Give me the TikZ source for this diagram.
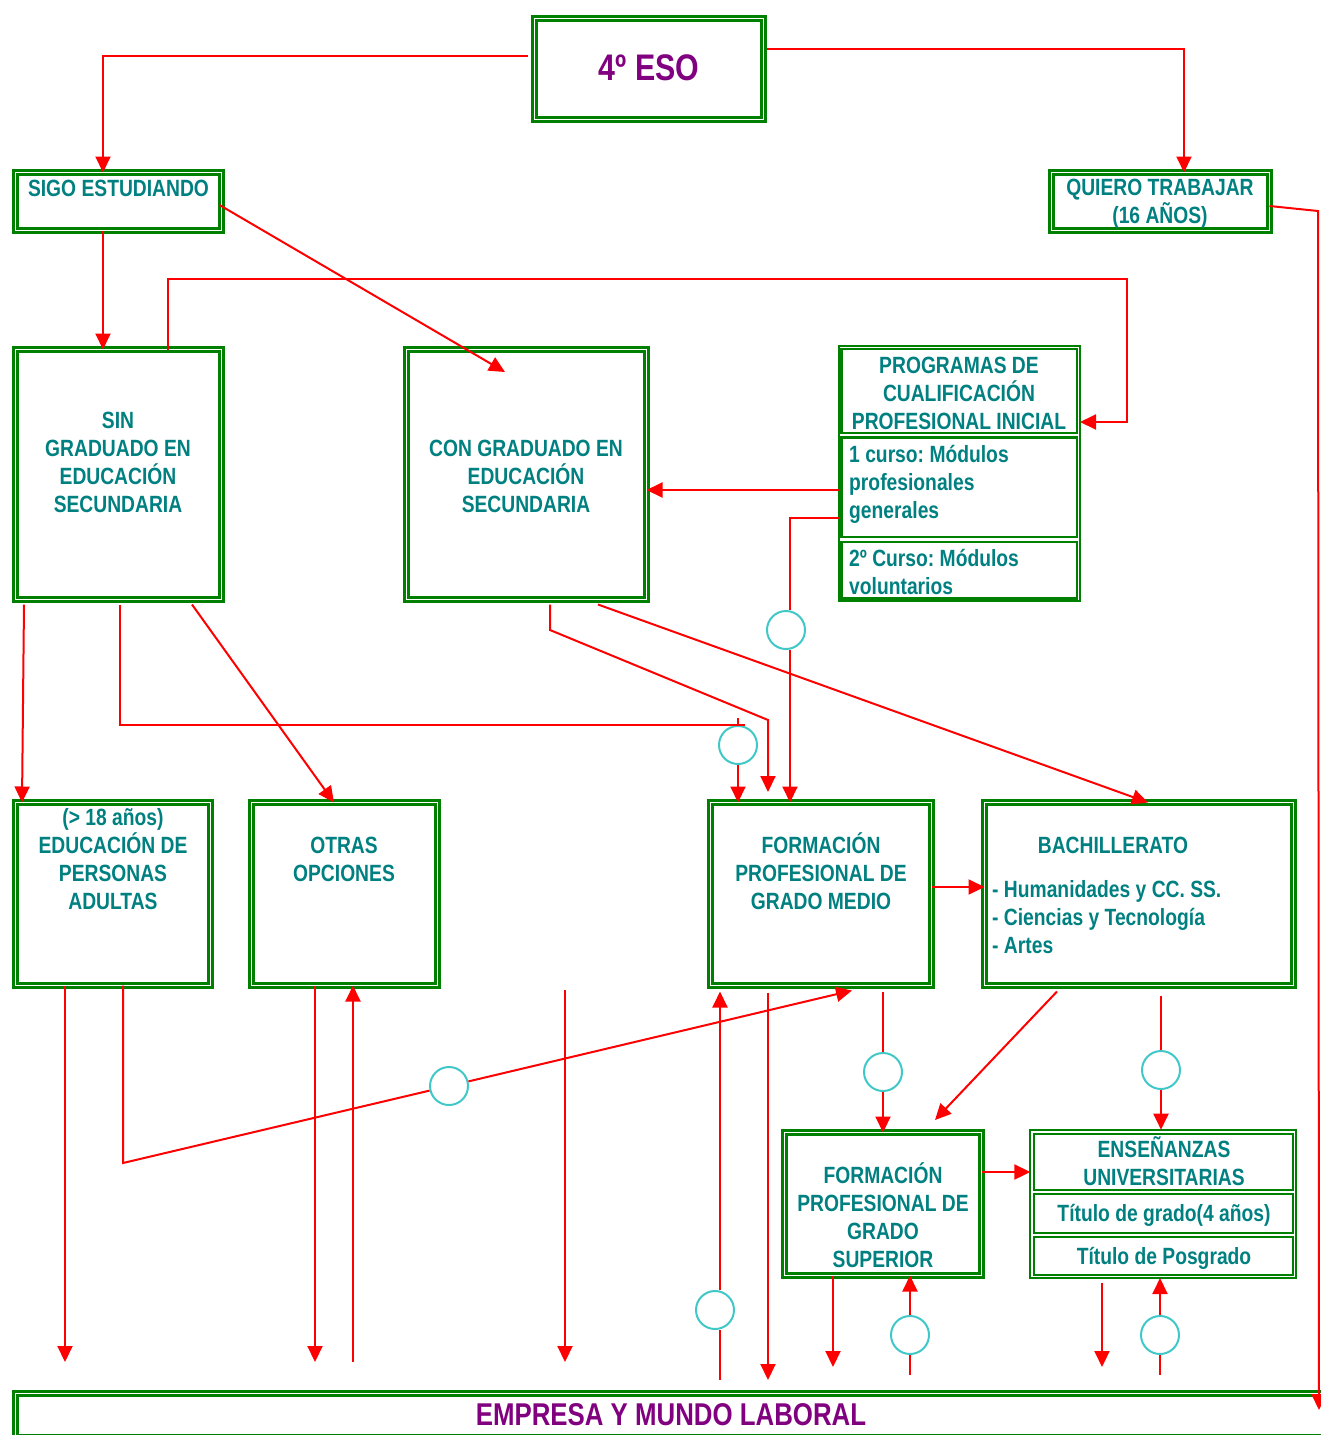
\documentclass[tikz,border=0pt]{standalone}
\usepackage{fontspec}
\usetikzlibrary{arrows.meta,calc}
\newfontfamily\nar{Liberation Sans}[FakeStretch=0.82]
\definecolor{grn}{RGB}{0,128,0}
\definecolor{tealc}{RGB}{0,128,128}
\definecolor{purp}{RGB}{128,0,128}
\definecolor{redc}{RGB}{255,0,0}
\definecolor{cyanc}{RGB}{64,200,200}
\newcommand\dbox[5]{\node[dbl, minimum width={#4-#2-7}, minimum height={#5-#3-7}] (#1) at ({(#2+#4)/2},{(#3+#5)/2}) {};}
\newcommand\rbox[6]{\node[sgl, line width=#6, minimum width={#4-#2}, minimum height={#5-#3}] (#1) at ({(#2+#4)/2},{(#3+#5)/2}) {};}
\frenchspacing
\begin{document}
\begin{tikzpicture}[x=1pt,y=-1pt,
  dbl/.style={draw=grn, line width=2.5pt, double=white, double distance=1.5pt, rectangle, inner sep=0pt, outer sep=0pt},
  sgl/.style={draw=grn, rectangle, inner sep=0pt, outer sep=0pt},
  txt/.style={font=\nar\bfseries\fontsize{23.5}{28}\selectfont\frenchspacing, text=tealc, align=center, inner sep=0pt},
  txtl/.style={txt, align=left, anchor=west},
  big/.style={font=\nar\bfseries\fontsize{37}{40}\selectfont, text=purp, inner sep=0pt},
  conn/.style={draw=redc, line width=2pt},
  arr/.style={conn, -{Triangle[length=16pt,width=15pt]}},
  circ/.style={circle, draw=cyanc, line width=2pt, minimum size=38pt, inner sep=0pt}]
\useasboundingbox (0,0) rectangle (1321,1435);

% boxes
\dbox{eso}{531}{15}{767}{123}
\dbox{sigo}{12}{169}{225}{234}
\dbox{quiero}{1048}{169}{1273}{234}
\dbox{sin}{12}{346}{225}{603}
\dbox{con}{403}{346}{650}{603}
\dbox{epa}{12}{799}{214}{989}
\dbox{otras}{248}{799}{441}{989}
\dbox{fpm}{707}{799}{935}{989}
\dbox{bach}{981}{799}{1297}{989}
\dbox{fpgs}{781}{1129}{985}{1279}
\dbox{emp}{12}{1390}{1345}{1441}

\rbox{prog}{838.5}{346.3}{1080}{601}{2pt}
\rbox{prog1}{841.5}{349}{1077}{433}{2.5pt}
\rbox{prog2}{841.5}{437.5}{1077}{537}{2.5pt}
\rbox{prog3}{841.5}{542}{1077}{598.5}{2.5pt}

\rbox{ens}{1030.3}{1129.7}{1296.3}{1278}{2pt}
\rbox{ens1}{1034}{1134}{1293}{1190}{2.5pt}
\rbox{ens2}{1034}{1194}{1293}{1233}{2.5pt}
\rbox{ens3}{1034}{1237}{1293}{1275}{2.5pt}

% texts
\node[big] (eso-t) at (649,68) {4º ESO};
\node[txt] (sigo-t) at (118.5,188) {SIGO ESTUDIANDO};
\node[txt] (quiero-t) at (1160,204) {QUIERO TRABAJAR\\(16 AÑOS)};
\node[txt] (sin-t) at (118,462) {SIN\\GRADUADO EN\\EDUCACIÓN\\SECUNDARIA};
\node[txt] (con-t) at (526,476) {CON GRADUADO EN\\EDUCACIÓN\\SECUNDARIA};
\node[txt] (prog-t) at (959,393) {PROGRAMAS DE\\CUALIFICACIÓN\\PROFESIONAL INICIAL};
\node[txtl] (prog1-t) at (849,484) {1 curso: Módulos\\profesionales\\generales};
\node[txtl] (prog3-t) at (849,572) {2º Curso: Módulos\\voluntarios};
\node[txt] (epa-t) at (113,859.5) {(> 18 años)\\EDUCACIÓN DE\\PERSONAS\\ADULTAS};
\node[txt] (otras-t) at (344,859) {OTRAS\\OPCIONES};
\node[txt] (fpm-t) at (821,871) {FORMACIÓN\\PROFESIONAL DE\\GRADO MEDIO};
\node[txt] (bach-t) at (1113,845) {BACHILLERATO};
\node[txtl] (bach-l) at (992,917) {- Humanidades y CC. SS.\\- Ciencias y Tecnología\\- Artes};
\node[txt] (fpgs-t) at (883,1215.5) {FORMACIÓN\\PROFESIONAL DE\\GRADO\\SUPERIOR};
\node[txt] (ens-t) at (1164,1161) {ENSEÑANZAS\\UNIVERSITARIAS};
\node[txt] (ens2-t) at (1164,1215) {Título de grado(4 años)};
\node[txt] (ens3-t) at (1164,1258) {Título de Posgrado};
\node[font=\nar\bfseries\fontsize{31.5}{34}\selectfont, text=purp, inner sep=0pt] (emp-t) at (671,1415) {EMPRESA Y MUNDO LABORAL};

% circles
\node[circ] (c1) at (786,630) {};
\node[circ] (c2) at (738,745) {};
\node[circ] (c3) at (449,1086) {};
\node[circ] (c4) at (883,1072) {};
\node[circ] (c5) at (715,1310) {};
\node[circ] (c6) at (1161,1070) {};
\node[circ] (c7) at (910,1335) {};
\node[circ] (c8) at (1160,1335) {};

% free ends
\coordinate (f1) at (65,1362);
\coordinate (f2) at (315,1362);
\coordinate (f3) at (353,1362);
\coordinate (f4a) at (565,990);
\coordinate (f4b) at (565,1362);
\coordinate (f5) at (720,1380);
\coordinate (f6) at (768,1380);
\coordinate (f7) at (833,1367);
\coordinate (f8) at (910,1375);
\coordinate (f9) at (1102,1367);
\coordinate (f10) at (1160,1375);
\coordinate (f11) at (1319,1410);
\coordinate (f12) at (935,1120);
\coordinate (f13) at (505,372);
\coordinate (f14) at (768,792);
\coordinate (f15) at (738,718);

% connectors
\draw[arr] ($(eso.west)+(-7,-13)$) -| (103,0 |- sigo.north);
\draw[arr] ($(eso.east)+(3,-20)$) -| (1184,0 |- quiero.north);
\draw[arr] (103,0 |- sigo.south) -- (103,0 |- sin.north);
\draw[arr] ($(sigo.east)+(-2,3.5)$) -- (f13);
\draw[arr] (168,0 |- sin.north) |- (1127,278.5) |- (prog.east |- 0,422);
\draw[arr] (prog.west |- 0,490) -- (con.east |- 0,490);
\draw[conn] (prog.west |- 0,518) -| (790,0 |- c1.north);
\draw[arr] (790,0 |- c1.south) -- (790,0 |- fpm.north);
\draw[arr] ($(24,0 |- sin.south)+(0,5)$) -- (22,0 |- epa.north);
\draw[conn] ($(120,0 |- sin.south)+(0,5)$) |- (745,725);
\draw[conn] (f15) -- (c2);
\draw[arr] (c2) -- (738,0 |- fpm.north);
\draw[arr] ($(550,0 |- con.south)+(0,5)$) -- (550,630) -- (768,720) -- (f14);
\draw[arr] ($(598,0 |- con.south)+(0,5)$) -- (1148,0 |- bach.north);
\draw[arr] ($(192,0 |- sin.south)+(0,5)$) -- (334,0 |- otras.north);
\draw[arr] (fpm.east |- 0,887) -- (bach.west |- 0,887);
\draw[arr] (65,0 |- epa.south) -- (f1);
\draw[conn] (123,0 |- epa.south) -- (123,1163) -- (c3);
\draw[arr] (c3) -- ($(852,0 |- fpm.south)+(0,5)$);
\draw[arr] (315,0 |- otras.south) -- (f2);
\draw[arr] (f3) -- (353,0 |- otras.south);
\draw[arr] (f4a) -- (f4b);
\draw[conn] (f5) -- (720,0 |- c5.south);
\draw[arr] (720,0 |- c5.north) -- ($(720,0 |- fpm.south)+(0,6)$);
\draw[arr] ($(768,0 |- fpm.south)+(0,7)$) -- (f6);
\draw[conn] ($(883,0 |- fpm.south)+(0,6)$) -- (c4);
\draw[arr] (c4) -- (883,0 |- fpgs.north);
\draw[arr] ($(1057,0 |- bach.south)+(0,6)$) -- (f12);
\draw[conn] ($(1161,0 |- bach.south)+(0,10)$) -- (c6);
\draw[arr] (c6) -- (1161,0 |- ens.north);
\draw[arr] (fpgs.east |- 0,1172) -- (ens.west |- 0,1172);
\draw[arr] (833,0 |- fpgs.south) -- (f7);
\draw[conn] (f8) -- (c7);
\draw[arr] (c7) -- (910,0 |- fpgs.south);
\draw[arr] ($(1102,0 |- ens.south)+(0,5)$) -- (f9);
\draw[conn] (f10) -- (c8);
\draw[arr] (c8) -- (1160,0 |- ens.south);
\draw[arr] ($(quiero.east)+(0,4.5)$) -- (1318,211) -- (f11);
\end{tikzpicture}
\end{document}
